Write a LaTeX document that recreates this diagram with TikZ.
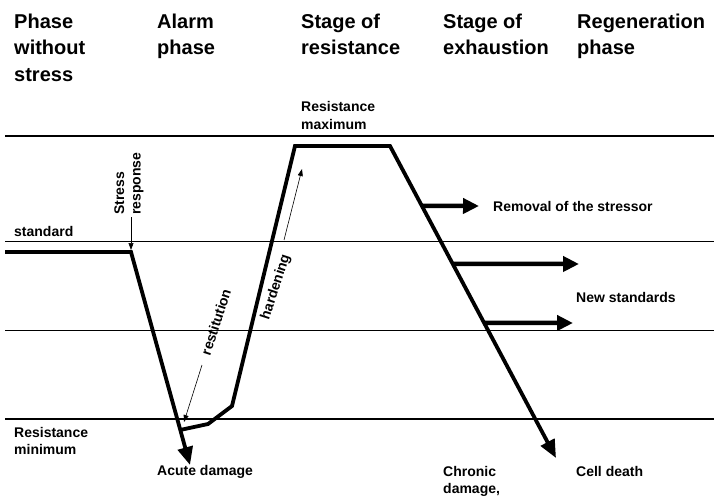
\documentclass[tikz,border=0pt]{standalone}
\usepackage{fontspec}
\setmainfont{Liberation Sans}
\usetikzlibrary{arrows.meta,calc}
\newcommand\mlines[1]{\begin{tabular}[t]{@{}l@{}}#1\end{tabular}}
\begin{document}
\begin{tikzpicture}[x=1pt,y=-1pt,
 gridline/.style={line width=1.2pt},
 curve/.style={line width=3.8pt},
 bigtip/.style={-{Triangle[length=18pt,width=15pt]}},
 push/.style={line width=4.5pt,-{Triangle[length=16pt,width=15pt]}},
 thinarrow/.style={line width=0.6pt,-{Triangle[length=7pt,width=5pt]}},
 head/.style={font=\bfseries\fontsize{20}{26.7}\selectfont, anchor=base west, inner sep=0pt},
 lbl/.style={font=\bfseries\fontsize{14}{17.5}\selectfont, anchor=base west, inner sep=0pt},
 rot/.style={font=\bfseries\fontsize{14}{16.5}\selectfont, inner sep=0pt},
]
\useasboundingbox (0,0) rectangle (714,497);
\fill[white] (0,0) rectangle (714,497);

% headers
\node[head] (h1) at (14,28.3) {\mlines{Phase\\without\\stress}};
\node[head] (h2) at (157,28.3) {\mlines{Alarm\\phase}};
\node[head] (h3) at (301,28.3) {\mlines{Stage of\\resistance}};
\node[head] (h4) at (443,28.3) {\mlines{Stage of\\exhaustion}};
\node[head] (h5) at (577,28.3) {\mlines{Regeneration\\phase}};

% reference lines
\draw[gridline] (5,136) -- (714,136);
\draw[gridline] (5,241.5) -- (714,241.5);
\draw[gridline] (5,330.5) -- (714,330.5);
\draw[gridline] (5,419) -- (714,419);

% main curve
\coordinate (s0) at (5,252);
\coordinate (s1) at (131,252);
\coordinate (acute) at (190,465);
\draw[curve,bigtip] (s0) -- (s1) -- (acute);

\coordinate (r0) at (180,430);
\coordinate (r1) at (208,424);
\coordinate (r2) at (232,406);
\coordinate (top1) at (295,146);
\coordinate (top2) at (390,146);
\coordinate (death) at (556,458);
\draw[curve,bigtip] (r0) -- (r1) -- (r2) -- (top1) -- (top2) -- (death);

% push arrows
\coordinate (a1) at ($(top2)!0.192!(death)$);
\coordinate (a2) at ($(top2)!0.378!(death)$);
\coordinate (a3) at ($(top2)!0.567!(death)$);
\coordinate (p1) at (479,206);
\coordinate (p2) at (579,264);
\coordinate (p3) at (573,323);
\draw[push] (a1) -- (p1);
\draw[push] (a2) -- (p2);
\draw[push] (a3) -- (p3);

% thin arrows
\coordinate (sr0) at (131,217);
\coordinate (sr1) at (131,250);
\draw[thinarrow] (sr0) -- (sr1);
\coordinate (re0) at (202,365);
\coordinate (re1) at (184,422);
\draw[thinarrow] (re0) -- (re1);
\coordinate (ha0) at (284,240);
\coordinate (ha1) at (302,169);
\draw[thinarrow] (ha0) -- (ha1);

% rotated labels
\node[rot, rotate=90, anchor=base west] (stress) at (124,215) {\mlines{Stress\\response}};
\node[rot, rotate=72] (rest) at (216,322) {restitution};
\node[rot, rotate=72] (hard) at (276,287) {hardening};

% labels
\node[lbl] (std) at (14,236) {standard};
\node[lbl] (rem) at (493,211) {Removal of the stressor};
\node[lbl] (news) at (576,302) {New standards};
\node[lbl] (rmax) at (301,111.7) {\mlines{Resistance\\maximum}};
\node[lbl] (rmin) at (14,437) {\mlines{Resistance\\minimum}};
\node[lbl] (acd) at (157,475) {Acute damage};
\node[lbl] (chd) at (443,476) {\mlines{Chronic\\damage,}};
\node[lbl] (cd) at (576,476) {Cell death};
\end{tikzpicture}
\end{document}
